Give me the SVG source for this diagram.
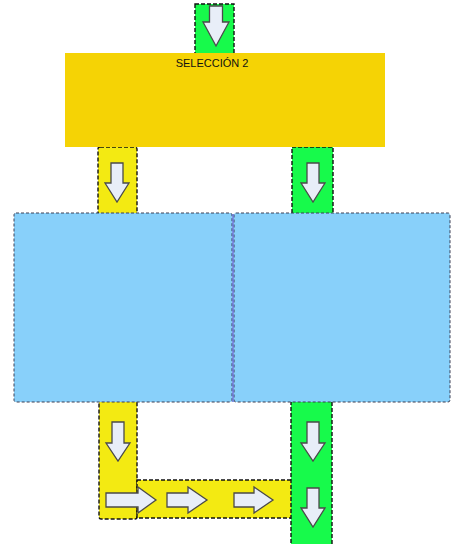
<svg xmlns="http://www.w3.org/2000/svg" width="459" height="544" viewBox="0 0 459 544">
<style>
.g{fill:#17fa4b;stroke:#111;stroke-width:1.4;stroke-dasharray:4,2}
.y{fill:#f3ea12;stroke:#111;stroke-width:1.4;stroke-dasharray:4,2}
.b{fill:#88d0fa;stroke:#3a3f55;stroke-width:1;stroke-dasharray:3,2}
.a{fill:#e8eef8;stroke:#4a4a4a;stroke-width:1.3;stroke-linejoin:miter}
.t{font-family:"Liberation Sans",Arial,sans-serif;font-size:11px;fill:#111}
</style>
<rect width="459" height="544" fill="#fff"/>
<g id="connectors">
<rect class="g" x="195" y="4" width="39" height="50"/>
<rect class="y" x="98" y="147" width="39" height="67" rx="2"/>
<rect class="g" x="292" y="147" width="41" height="67"/>
<rect class="y" x="99" y="401" width="38" height="118" rx="2"/>
<rect class="y" x="137" y="480" width="155" height="38"/>
<rect class="g" x="291" y="401" width="41" height="150"/>
<path class="a" d="M209.5,6 H222.5 V22 H229 L216,46 L203,22 H209.5 Z"/>
<path class="a" d="M111,163 H123 V183 H129 L117,202 L105,183 H111 Z"/>
<path class="a" d="M307,163 H319 V183 H325 L313,202 L301,183 H307 Z"/>
<path class="a" d="M112,422 H124 V443 H130 L118,461 L106,443 H112 Z"/>
<path class="a" d="M307,422 H319 V443 H325 L313,461 L301,443 H307 Z"/>
<path class="a" d="M307,488 H319 V508 H325 L313,527 L301,508 H307 Z"/>
<path class="a" d="M106,493 H138 V487 L156,500 L138,513 V507 H106 Z"/>
<path class="a" d="M167,493 H188 V487 L207,500 L188,513 V507 H167 Z"/>
<path class="a" d="M234,493 H254 V487 L273,500 L254,513 V507 H234 Z"/>
</g>
<g id="seleccion2">
<rect x="65" y="53" width="320" height="94" fill="#f5d305"/>
<text class="t" x="212" y="67" text-anchor="middle">SELECCIÓN 2</text>
</g>
<g id="box-left">
<rect class="b" x="14" y="213" width="218" height="189" rx="2"/>
</g>
<g id="box-right">
<rect class="b" x="234" y="213" width="216" height="189" rx="2"/>
<line x1="233" y1="214" x2="233" y2="402" stroke="#5a6fd8" stroke-width="1.5"/>
</g>
</svg>
